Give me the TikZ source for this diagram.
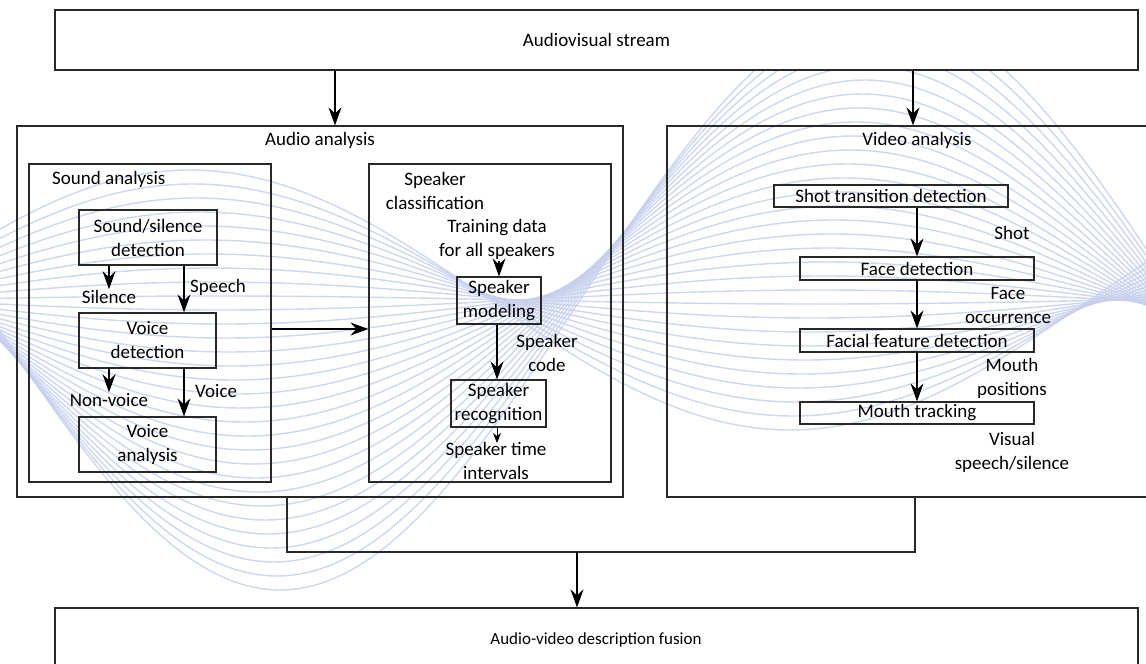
\documentclass[tikz,border=0pt]{standalone}
\usepackage{fontspec}
\setmainfont{Carlito}
\usetikzlibrary{arrows.meta}

\definecolor{wavecol}{RGB}{198,207,237}
\definecolor{edgecol}{RGB}{40,40,40}

\tikzset{
  box/.style={draw=edgecol, line width=1.2pt, inner sep=0pt, align=center},
  lbl/.style={align=center, inner sep=1pt},
  arr/.style={-{Stealth[length=18pt,width=13pt,inset=6pt]}, line width=1.2pt, draw=black},
  arrsmall/.style={-{Stealth[length=10pt,width=8pt,inset=3pt]}, line width=1pt, draw=black},
  link/.style={line width=1.2pt, draw=edgecol},
  wave/.style={draw=wavecol, line width=1.4pt, opacity=0.85}
}

\begin{document}
\begin{tikzpicture}[x=1pt, y=-1pt, font=\fontsize{19}{24}\selectfont]
\useasboundingbox (0,0) rectangle (1146,664);

% decorative wave bundle in the background
\begin{scope}
  \clip (0,70) rectangle (1146,625);
  \foreach \k in {0,...,30} {
    \pgfmathsetmacro{\amp}{-130+14*\k}
    \pgfmathsetmacro{\ph}{490+3*\k}
    \draw[wave] plot[domain=0:1146, samples=90, smooth]
      (\x, {300 - \amp*sin((\x-\ph)*0.3)});
  }
\end{scope}

% outer stages
\node[box, fill=white, minimum width=1083pt, minimum height=60pt] (stream) at (596.5,40) {Audiovisual stream};
\node[box, minimum width=606pt, minimum height=371pt] (audio) at (320,311.5) {};
\node[box, minimum width=503pt, minimum height=371pt] (video) at (918.5,311.5) {};
\node[box, fill=white, minimum width=1083pt, minimum height=92pt] (fusion) at (596.5,654) {};
\node[lbl, font=\fontsize{17}{24}\selectfont] (fusiontxt) at (596,640) {Audio-video description fusion};

\node[lbl] (audiottl) at (320,140) {Audio analysis};
\node[lbl] (videottl) at (917,140) {Video analysis};

% sound analysis
\node[box, minimum width=242pt, minimum height=318pt] (sound) at (150,323) {};
\node[lbl, anchor=west] (soundttl) at (51,179) {Sound analysis};
\node[box, minimum width=138pt, minimum height=55pt] (sil) at (148,237.5) {Sound/silence\\detection};
\node[box, minimum width=137pt, minimum height=55pt] (vdet) at (147.5,340.5) {Voice\\detection};
\node[box, minimum width=137pt, minimum height=55pt] (van) at (147.5,444.5) {Voice\\analysis};
\node[lbl] (silence) at (109,297) {Silence};
\node[lbl, anchor=west] (speech) at (189,287) {Speech};
\node[lbl] (nonvoice) at (109,400) {Non-voice};
\node[lbl, anchor=west] (voice) at (194,391) {Voice};

% speaker classification
\node[box, minimum width=242pt, minimum height=318pt] (spk) at (490,323) {};
\node[lbl] (spkttl) at (435,191) {Speaker\\classification};
\node[lbl] (train) at (497,239.5) {Training data\\for all speakers};
\node[box, minimum width=84pt, minimum height=47pt] (smod) at (499,300.5) {Speaker\\modeling};
\node[box, minimum width=95pt, minimum height=47pt] (srec) at (498.5,403.5) {Speaker\\recognition};
\node[lbl] (scode) at (547,352.5) {Speaker\\code};
\node[lbl] (stime) at (496,461) {Speaker time\\intervals};
\coordinate (stip) at (497,443);

% video analysis
\node[box, minimum width=234pt, minimum height=22pt] (shot) at (891,196) {Shot transition detection};
\node[box, minimum width=234pt, minimum height=23pt] (face) at (917,268.5) {Face detection};
\node[box, minimum width=234pt, minimum height=23pt] (feat) at (917,340.5) {Facial feature detection};
\node[box, minimum width=234pt, minimum height=22pt] (mouth) at (917,413) {Mouth tracking};
\node[lbl] (shotlbl) at (1012,233) {Shot};
\node[lbl] (facelbl) at (1008,305) {Face\\occurrence};
\node[lbl] (mouthlbl) at (1012,378) {Mouth\\positions};
\node[lbl] (vislbl) at (1012,452) {Visual\\speech/silence};

% connectors
\draw[arr] (stream.south -| 335,0) -- (audio.north -| 335,0);
\draw[arr] (stream.south -| 913,0) -- (video.north -| 913,0);

\draw[arr] (sil.south -| silence) -- (silence.north);
\draw[arr] (sil.south -| 184,0) -- (vdet.north -| 184,0);
\draw[arr] (vdet.south -| nonvoice) -- (nonvoice.north);
\draw[arr] (vdet.south -| 184,0) -- (van.north -| 184,0);

\draw[arr] (sound.east |- 0,329) -- (spk.west |- 0,329);

\draw[arr] (train.south -| smod) -- (smod.north);
\draw[arr] (smod.south -| 497,0) -- (srec.north -| 497,0);
\draw[arrsmall] (srec.south -| stip) -- (stip);

\draw[arr] (shot.south -| face) -- (face.north);
\draw[arr] (face.south) -- (feat.north);
\draw[arr] (feat.south) -- (mouth.north);

\coordinate (join) at (577,552);
\draw[link] (audio.south -| 287,0) |- (join) -| (video.south -| 915,0);
\draw[arr] (join) -- (fusion.north -| join);
\end{tikzpicture}
\end{document}
